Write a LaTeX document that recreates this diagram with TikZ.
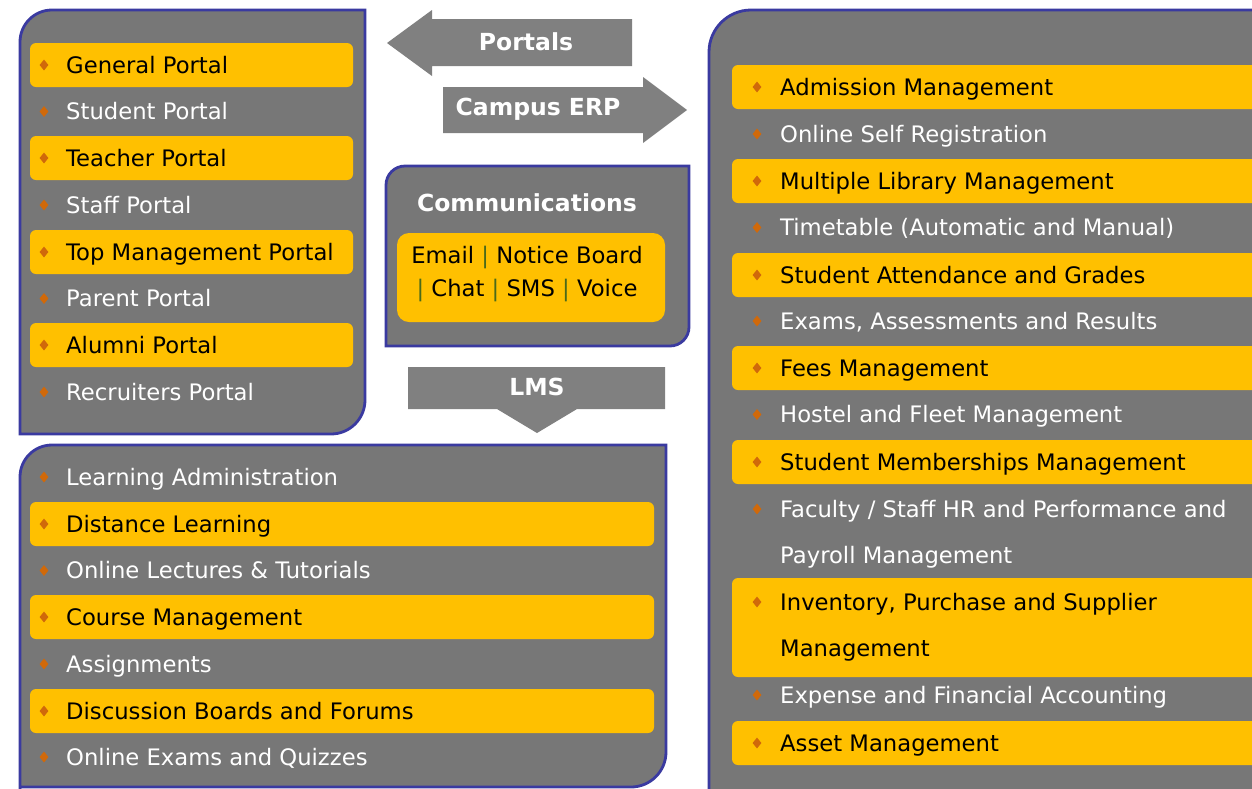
\documentclass[tikz,border=0pt]{standalone}
\usepackage{fontspec}
\setmainfont{DejaVu Sans}
\usetikzlibrary{shapes.geometric}
\definecolor{boxgray}{HTML}{777777}
\definecolor{arrgray}{HTML}{808080}
\definecolor{yel}{HTML}{FFC000}
\definecolor{edge}{HTML}{3A3AA0}
\definecolor{bulc}{HTML}{D0690A}
\definecolor{pipec}{HTML}{4A6A1A}
\tikzset{
  panel/.style={fill=boxgray, draw=edge, line width=2.8pt},
  bar/.style={fill=yel, rounded corners=6pt},
  bul/.style={diamond, fill=bulc, inner sep=0pt, minimum width=9pt, minimum height=11pt},
  item/.style={anchor=base west, inner sep=0pt, font=\fontsize{22.7}{27}\selectfont},
  wt/.style={item, text=white},
  bt/.style={item, text=black},
  arrowshape/.style={fill=arrgray},
  arrlabel/.style={text=white, inner sep=0pt, font=\fontsize{23.5}{28}\selectfont\bfseries},
}
\begin{document}
\begin{tikzpicture}[x=1pt, y=-1pt]
\useasboundingbox (0,0) rectangle (1252,788);
\clip (0,0) rectangle (1252,788);
\fill[white] (0,0) rectangle (1252,788);

% ---------- Portals panel ----------
\draw[panel] (20,434) -- (20,42) .. controls (20,24.3) and (34.3,10) .. (52,10) -- (365,10) -- (365,400) .. controls (365,418.8) and (349.8,434) .. (331,434) -- cycle;
\foreach \y in {65,158,252,345} \fill[bar] (30,\y-22) rectangle (353,\y+22);
\foreach \y [count=\i] in {65,111.5,158,205,252,298.5,345,392} \node[bul] (pb\i) at (44,\y) {};
\node[bt] (p1) at (66,65+8) {General Portal};
\node[wt] (p2) at (66,111.5+8) {Student Portal};
\node[bt] (p3) at (66,158+8) {Teacher Portal};
\node[wt] (p4) at (66,205+8) {Staff Portal};
\node[bt] (p5) at (66,252+8) {Top Management Portal};
\node[wt] (p6) at (66,298.5+8) {Parent Portal};
\node[bt] (p7) at (66,345+8) {Alumni Portal};
\node[wt] (p8) at (66,392+8) {Recruiters Portal};

% ---------- Arrows ----------
\fill[arrowshape] (387,43) -- (432,10) -- (432,19) -- (632,19) -- (632,66) -- (432,66) -- (432,76) -- cycle;
\node[arrlabel] (portals) at (526,42) {Portals};
\fill[arrowshape] (443,87) -- (643,87) -- (643,77) -- (687,110) -- (643,143) -- (643,133) -- (443,133) -- cycle;
\node[arrlabel] (erp) at (538,109) {Campus ERP};
\fill[arrowshape] (408,367) -- (665,367) -- (665,409) -- (577,409) -- (537,433) -- (497,409) -- (408,409) -- cycle;
\node[arrlabel] (lms) at (537,387) {LMS};

% ---------- Communications ----------
\draw[panel] (386,346) -- (386,185) .. controls (386,174.5) and (394.5,166) .. (405,166) -- (689,166) -- (689,327) .. controls (689,337.5) and (680.5,346) .. (670,346) -- cycle;
\node[arrlabel] (comm) at (527,203) {Communications};
\fill[yel, rounded corners=12pt] (397,233) rectangle (665,322);
\node[bt, anchor=base] (c1) at (527,263) {Email \textcolor{pipec}{|} Notice Board};
\node[bt, anchor=base] (c2) at (527,296) {\textcolor{pipec}{|} Chat \textcolor{pipec}{|} SMS \textcolor{pipec}{|} Voice};

% ---------- LMS panel ----------
\draw[panel] (20,800) -- (20,477) .. controls (20,459.3) and (34.3,445) .. (52,445) -- (666,445) -- (666,752) .. controls (666,771.3) and (650.3,787) .. (631,787) -- (20,787);
\foreach \y in {524,617,711} \fill[bar] (30,\y-22) rectangle (654,\y+22);
\foreach \y [count=\i] in {477,524,570.5,617,664,711,757} \node[bul] (lb\i) at (44,\y) {};
\node[wt] (l1) at (66,477+8) {Learning Administration};
\node[bt] (l2) at (66,524+8) {Distance Learning};
\node[wt] (l3) at (66,570.5+8) {Online Lectures \& Tutorials};
\node[bt] (l4) at (66,617+8) {Course Management};
\node[wt] (l5) at (66,664+8) {Assignments};
\node[bt] (l6) at (66,711+8) {Discussion Boards and Forums};
\node[wt] (l7) at (66,757+8) {Online Exams and Quizzes};

% ---------- Campus ERP panel ----------
\draw[panel] (709,800) -- (709,52) .. controls (709,28.8) and (727.8,10) .. (751,10) -- (1270,10) -- (1270,800);
\foreach \y in {87,181,275,368,462,743} \fill[bar] (732,\y-22) rectangle (1275,\y+22);
\fill[bar] (732,578) rectangle (1275,677);
\foreach \y [count=\i] in {87,134,181,227.5,275,321,368,414.5,462,509,602,695,743} \node[bul] (eb\i) at (757,\y) {};
\node[bt] (e1) at (780,87+8) {Admission Management};
\node[wt] (e2) at (780,134+8) {Online Self Registration};
\node[bt] (e3) at (780,181+8) {Multiple Library Management};
\node[wt] (e4) at (780,227.5+8) {Timetable (Automatic and Manual)};
\node[bt] (e5) at (780,275+8) {Student Attendance and Grades};
\node[wt] (e6) at (780,321+8) {Exams, Assessments and Results};
\node[bt] (e7) at (780,368+8) {Fees Management};
\node[wt] (e8) at (780,414.5+8) {Hostel and Fleet Management};
\node[bt] (e9) at (780,462+8) {Student Memberships Management};
\node[wt] (e10) at (780,509+8) {Faculty / Staff HR and Performance and};
\node[wt] (e10b) at (780,555+8) {Payroll Management};
\node[bt] (e11) at (780,602+8) {Inventory, Purchase and Supplier};
\node[bt] (e11b) at (780,648+8) {Management};
\node[wt] (e12) at (780,695+8) {Expense and Financial Accounting};
\node[bt] (e13) at (780,743+8) {Asset Management};
\end{tikzpicture}
\end{document}
